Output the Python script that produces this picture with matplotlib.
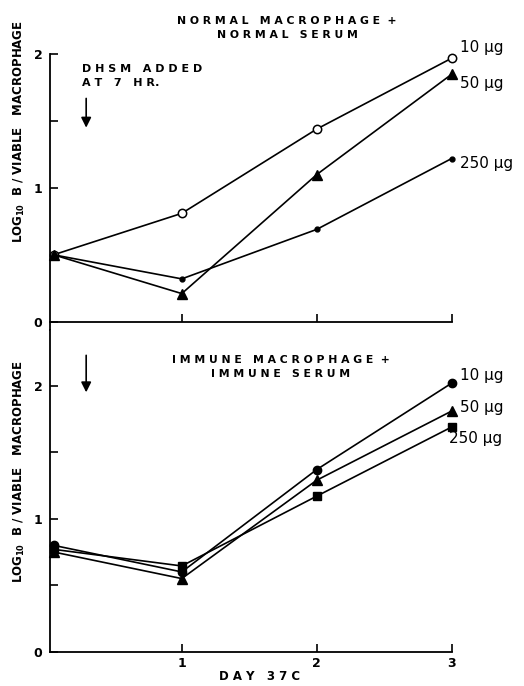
import numpy as np
import matplotlib
matplotlib.use("Agg")
import matplotlib.pyplot as plt

# days at 37 C (first sample about 1 hr after start)
days = [0.05, 1, 2, 3]
doses = ["10 \u00b5g", "50 \u00b5g", "250 \u00b5g"]

# log10 bacteria per viable macrophage
normal_10 = [0.50, 0.81, 1.44, 1.97]
normal_50 = [0.50, 0.21, 1.10, 1.85]
normal_250 = [0.50, 0.32, 0.69, 1.22]

immune_10 = [0.80, 0.60, 1.37, 2.02]
immune_50 = [0.75, 0.55, 1.29, 1.81]
immune_250 = [0.77, 0.645, 1.17, 1.69]

dhsm_day = 7 / 24.0

plt.rcParams["font.family"] = "DejaVu Sans"
fig = plt.figure(figsize=(5.24, 6.86), dpi=100)
ax1 = fig.add_axes([0.0945, 0.519, 0.8025, 0.402])
ax2 = fig.add_axes([0.0945, 0.050, 0.8025, 0.469])

XMIN, XMAX = 0.02, 3.136
lw = 1.2
kw = dict(color="black", lw=lw, clip_on=False)

# top panel
ax1.plot(days, normal_10, marker="o", ms=6, mfc="white", mec="black", mew=1.1, **kw)
ax1.plot(days, normal_50, marker="^", ms=7.5, mfc="black", mec="black", **kw)
ax1.plot(days, normal_250, marker="o", ms=3.5, mfc="black", mec="black", **kw)
ax1.set_xlim(XMIN, XMAX)
ax1.set_ylim(-0.062, 2.0)

# bottom panel
ax2.plot(days, immune_10, marker="o", ms=6, mfc="black", mec="black", **kw)
ax2.plot(days, immune_50, marker="^", ms=7.5, mfc="black", mec="black", **kw)
ax2.plot(days, immune_250, marker="s", ms=5.5, mfc="black", mec="black", **kw)
ax2.set_xlim(XMIN, XMAX)
ax2.set_ylim(0, 2.42)

for ax in (ax1, ax2):
    for s in ("top", "right"):
        ax.spines[s].set_visible(False)
    ax.spines["left"].set_linewidth(1.3)
    ax.spines["bottom"].set_linewidth(1.3)
    ax.spines["bottom"].set_bounds(XMIN, 3)
    ax.set_yticks([0, 1, 2])
    ax.set_yticklabels(["0", "1", "2"], fontsize=9, fontweight="bold")
    ax.set_yticks([0.5, 1.5], minor=True)
    ax.tick_params(axis="both", which="both", direction="in", length=6, width=1.2)
    ax.tick_params(axis="y", pad=5)
    ax.set_xticks([1, 2, 3])

ax1.spines["bottom"].set_position(("data", 0))
ax1.set_xticklabels([])
ax2.set_xticklabels(["1", "2", "3"], fontsize=9, fontweight="bold")
ax2.tick_params(axis="x", pad=4)
ax2.set_xlabel("D A Y   3 7 C", fontsize=8.5, fontweight="bold", labelpad=0)

ylab = r"LOG$_{\mathbf{10}}$  B / VIABLE   MACROPHAGE"
ax1.text(-0.072, 0.72, ylab, transform=ax1.transAxes, rotation=90,
         ha="center", va="center", fontsize=8.5, fontweight="bold")
ax2.text(-0.072, 0.56, ylab, transform=ax2.transAxes, rotation=90,
         ha="center", va="center", fontsize=8.5, fontweight="bold")

# panel titles
ax1.text(0.565, 1.095, "N O R M A L   M A C R O P H A G E  +\nN O R M A L   S E R U M",
         transform=ax1.transAxes, ha="center", va="center",
         fontsize=7.8, fontweight="bold", linespacing=1.45)
ax2.text(0.55, 0.885, "I M M U N E   M A C R O P H A G E  +\nI M M U N E   S E R U M",
         transform=ax2.transAxes, ha="center", va="center",
         fontsize=7.8, fontweight="bold", linespacing=1.45)

# DHSM arrow
ax1.text(dhsm_day - 0.03, 1.93, "D H S M   A D D E D\nA T   7   H R.",
         ha="left", va="top", fontsize=8, fontweight="bold", linespacing=1.5)
ax1.annotate("", xy=(dhsm_day, 1.43), xytext=(dhsm_day, 1.69),
             arrowprops=dict(arrowstyle="-|>", color="black", lw=1.2,
                             mutation_scale=15))
ax2.annotate("", xy=(dhsm_day, 1.93), xytext=(dhsm_day, 2.25),
             arrowprops=dict(arrowstyle="-|>", color="black", lw=1.2,
                             mutation_scale=15))

# dose labels
top_lab_y = [2.05, 1.78, 1.18]
bot_lab_y = [2.08, 1.84, 1.60]
for lab, yy in zip(doses, top_lab_y):
    ax1.text(3.06, yy, lab, fontsize=11, ha="left", va="center")
for lab, yy in zip(doses, bot_lab_y):
    ax2.text(3.06 if lab != "250 \u00b5g" else 2.98, yy, lab, fontsize=11,
             ha="left", va="center")

fig.savefig("out.png", dpi=100)
